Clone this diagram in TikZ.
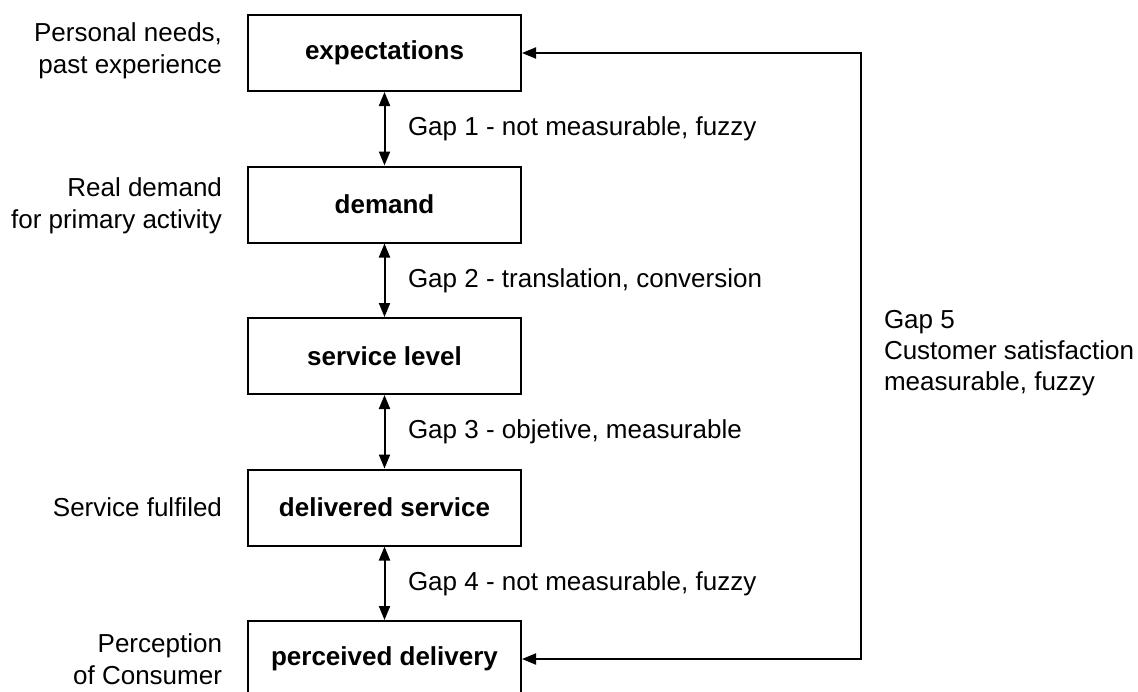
\documentclass[tikz,border=0pt]{standalone}
\usepackage{fontspec}
\setmainfont{Liberation Sans}
\usetikzlibrary{arrows.meta,positioning,calc}

\begin{document}
\begin{tikzpicture}
[x=0.5pt,y=0.5pt,line width=1pt,
	font=\fontsize{13}{16}\selectfont,
	box/.style={draw,rectangle,minimum width=136.5pt,minimum height=38pt,
		font=\fontsize{13}{16}\selectfont\bfseries},
	lbl/.style={inner sep=0pt},
	gap/.style={<->,>={Triangle[length=7pt,width=5.5pt]}}]
\useasboundingbox (0,0) rectangle (1138,-691);

\node (exp) at (384.5,-53)[box] {expectations};
\node (dem) at (384.5,-204.5)[box] {demand};
\node (slv) at (384.5,-356)[box] {service level};
\node (dsv) at (384.5,-507.5)[box] {delivered service};
\node (pdl) at (384.5,-659)[box] {perceived delivery};

\node (lexp) at (223,-51)[lbl,anchor=east,align=right] {Personal needs,\\past experience};
\node (ldem) at (223,-206)[lbl,anchor=east,align=right] {Real demand\\for primary activity};
\node (ldsv) at (223,-507.5)[lbl,anchor=east,align=right] {Service fulfiled};
\node (lpdl) at (223,-659)[lbl,anchor=east,align=right] {Perception\\of Consumer};

\draw[gap] (exp) -- (dem);
\draw[gap] (dem) -- (slv);
\draw[gap] (slv) -- (dsv);
\draw[gap] (dsv) -- (pdl);

\node (g1) at (407,-129)[lbl,anchor=west] {Gap 1 - not measurable, fuzzy};
\node (g2) at (407,-280.5)[lbl,anchor=west] {Gap 2 - translation, conversion};
\node (g3) at (407,-432)[lbl,anchor=west] {Gap 3 - objetive, measurable};
\node (g4) at (407,-583.5)[lbl,anchor=west] {Gap 4 - not measurable, fuzzy};

\coordinate (fb) at (861,-53);
\draw[gap] (pdl.east) -| (fb) -- (exp.east);

\node (g5) at (883,-353)[lbl,anchor=west,align=left,font=\fontsize{13}{15.5}\selectfont] {Gap 5\\Customer satisfaction\\measurable, fuzzy};

\end{tikzpicture}
\end{document}
